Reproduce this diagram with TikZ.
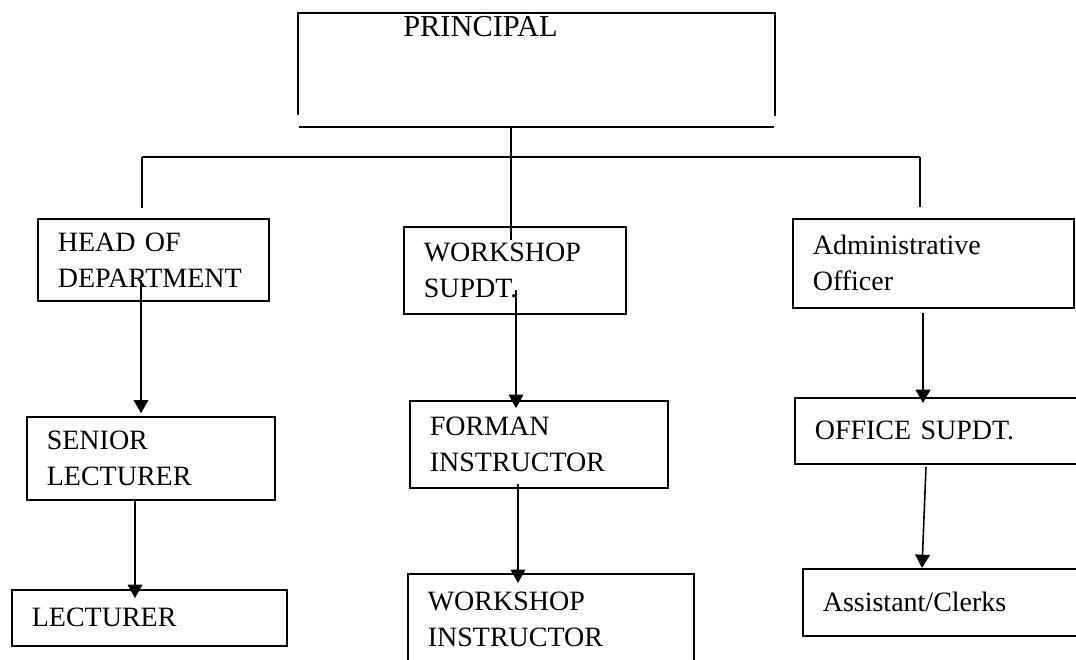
\documentclass[tikz,border=0pt]{standalone}
\usepackage{fontspec}
\setmainfont{Liberation Serif}
\usetikzlibrary{arrows.meta}

\tikzset{
  post/.style={draw, line width=1.2pt, anchor=north west, align=left, inner xsep=15pt, inner ysep=0pt, font=\fontsize{21}{27}\selectfont},
  link/.style={line width=1.2pt},
  arr/.style={line width=1.2pt, -{Triangle[width=11pt,length=10pt]}}
}

\begin{document}
\begin{tikzpicture}[x=0.75pt, y=-0.75pt]
\useasboundingbox (0,0) rectangle (1076,660);
\clip (0,0) rectangle (1076,660);
% principal, open box
\draw[link] (298,115) -- (298,13) -- (775,13) -- (775,116);
\draw[link] (299,127) -- (774,127);
\node[anchor=base west, inner sep=0pt, font=\fontsize{22.8}{27}\selectfont] (principal) at (403,37) {PRINCIPAL};
% second row
\node[post, text width=143.25pt, minimum height=61.5pt] (hod) at (37,218) {HEAD OF\\DEPARTMENT};
\node[post, text width=136.5pt, minimum height=65.25pt] (wsup) at (403,226) {WORKSHOP\\SUPDT.};
\node[post, text width=180.75pt, minimum height=66.75pt] (admin) at (792,218) {Administrative\\Officer};
% third row
\node[post, text width=156pt, minimum height=62.25pt] (senior) at (26,416) {SENIOR\\LECTURER};
\node[post, text width=163.5pt, minimum height=65.25pt] (forman) at (409,400) {FORMAN\\INSTRUCTOR};
\node[post, text width=199.5pt, minimum height=49.5pt] (office) at (794,397) {OFFICE SUPDT.};
% last row
\node[post, text width=176.25pt, minimum height=42pt] (lect) at (11,589) {LECTURER};
\node[post, text width=184.5pt, minimum height=68.25pt] (winst) at (407,573) {WORKSHOP\\INSTRUCTOR};
\node[post, text width=193.5pt, minimum height=50.25pt] (assist) at (802,568) {Assistant/Clerks};
% branch lines
\coordinate (pdrop) at (511,127);
\coordinate (bl) at (142,157);
\coordinate (br) at (920,157);
\draw[link, shorten >=-10.5pt] (pdrop) -- (pdrop |- wsup.north);
\draw[link] (bl) -- (br);
\draw[link, shorten >=7.5pt] (bl) -- (bl |- hod.north);
\draw[link, shorten >=8pt] (br) -- (br |- admin.north);
% arrows down
\coordinate (h1) at (141,280);
\draw[arr, shorten >=2pt] (h1) -- (h1 |- senior.north);
\coordinate (s1) at (135,499);
\draw[arr, shorten >=-6.75pt] (s1) -- (s1 |- lect.north);
\coordinate (w1) at (516,290);
\draw[arr, shorten >=-6pt] (w1) -- (w1 |- forman.north);
\coordinate (f1) at (518,484);
\draw[arr, shorten >=-7.5pt] (f1) -- (f1 |- winst.north);
\coordinate (a1) at (923,313);
\draw[arr, shorten >=-4.5pt] (a1) -- (a1 |- office.north);
\coordinate (o1) at (926,467);
\coordinate (o2) at (922,568);
\draw[arr] (o1) -- (o2 |- assist.north);
\end{tikzpicture}
\end{document}
